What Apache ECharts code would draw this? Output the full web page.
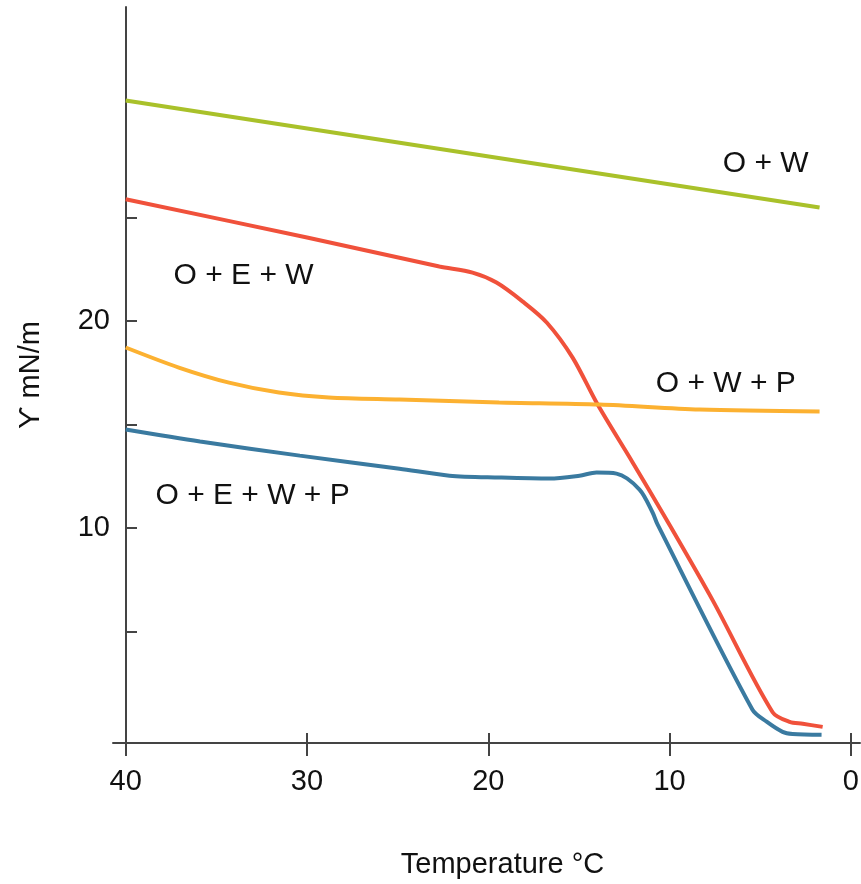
<!DOCTYPE html>
<html>
<head>
<meta charset="utf-8">
<script src="https://cdn.jsdelivr.net/npm/echarts@6/dist/echarts.min.js"></script>
<style>
  html, body { margin: 0; padding: 0; background: #fff; }
  #chart { width: 861px; height: 884px; }
</style>
</head>
<body>
<div id="chart"></div>
<script>
// 数据 [温度 °C, γ mN/m]
var owData = [[40, 30.68], [1.73, 25.5]]
var oewData = [[40, 25.9], [30, 24.05], [22.7, 22.65], [20.87, 22.35], [19.55, 21.87], [18.1, 20.95],
  [16.78, 19.94], [15.35, 18.24], [13.97, 15.97], [12.04, 13.17], [10.17, 10.4],
  [7.63, 6.51], [4.32, 1.09], [3.38, 0.62], [2.66, 0.53], [1.56, 0.38]]
var owpData = [[40, 18.73], [37.07, 17.76], [34.3, 17.03], [31.55, 16.55], [28.8, 16.31], [24.9, 16.21],
  [19.4, 16.07], [13.86, 15.97], [8.35, 15.73], [1.73, 15.63]]
var oewpData = [[40, 14.76], [35.9, 14.18], [30.4, 13.5], [24.9, 12.87], [22.14, 12.53], [19.38, 12.44],
  [16.62, 12.39], [14.97, 12.53], [14.03, 12.68], [12.93, 12.63], [11.66, 11.86], [10.94, 10.75],
  [10.66, 10.16], [5.43, 1.21], [4.65, 0.63], [3.77, 0.14], [3.22, 0.04], [1.62, 0.0]]

// 曲线标注
var labelNames = ['O + W', 'O + E + W', 'O + W + P', 'O + E + W + P']
var labelCoords = [[4.7, 27.6], [33.5, 22.2], [6.9, 17.0], [33.0, 11.55]]

var xTicks = [0, 10, 20, 30, 40]
var yTicks = [5, 10, 15, 20, 25]
var yLabels = [10, 20]

var colors = ['#a9c12a', '#f0513b', '#fcb131', '#3a7aa0']
var seriesData = [owData, oewData, owpData, oewpData]

var myChart = echarts.init(document.getElementById('chart'))
var font = 'Liberation Sans, Arial, sans-serif'
var axisColor = '#444'

var series = seriesData.map(function (d, i) {
  return {
    type: 'line',
    data: d,
    smooth: 0.3,
    showSymbol: false,
    lineStyle: { color: colors[i], width: 4 },
    markPoint: {
      symbol: 'circle',
      symbolSize: 0,
      label: {
        show: true,
        position: 'inside',
        color: '#111',
        fontSize: 30,
        fontFamily: font,
        formatter: function (p) { return p.name }
      },
      data: [{ name: labelNames[i], coord: labelCoords[i] }]
    }
  }
})

var option = {
  animation: false,
  grid: { left: 113, right: 1, top: 7, bottom: 141, outerBoundsMode: 'none' },
  xAxis: [{
    type: 'value',
    inverse: true,
    min: -0.5,
    max: 40.7,
    position: 'bottom',
    name: 'Temperature °C',
    nameLocation: 'middle',
    nameGap: 107,
    nameTextStyle: { color: '#111', fontSize: 29, fontFamily: font, padding: [0, 0, 0, 32] },
    axisLine: { onZero: false, lineStyle: { color: axisColor, width: 2 } },
    axisTick: { customValues: xTicks, length: 13, lineStyle: { color: axisColor, width: 2 } },
    axisLabel: { customValues: xTicks, margin: 24, color: '#111', fontSize: 29, fontFamily: font },
    splitLine: { show: false }
  }, {
    // 向上的刻度半段
    type: 'value',
    inverse: true,
    min: -0.5,
    max: 40.7,
    position: 'top',
    offset: -736,
    axisLine: { show: false, onZero: false },
    axisTick: { customValues: xTicks, length: 10, lineStyle: { color: axisColor, width: 2 } },
    axisLabel: { show: false },
    splitLine: { show: false }
  }],
  yAxis: {
    type: 'value',
    min: -0.4,
    max: 35.2,
    offset: -13,
    name: 'ϒ mN/m',
    nameLocation: 'middle',
    nameRotate: 90,
    nameGap: 81,
    nameTextStyle: { color: '#111', fontSize: 29, fontFamily: font },
    axisLine: { show: true, onZero: false, lineStyle: { color: axisColor, width: 2 } },
    axisTick: { show: true, inside: true, customValues: yTicks, length: 11, lineStyle: { color: axisColor, width: 2 } },
    axisLabel: { customValues: yLabels, margin: 16, color: '#111', fontSize: 29, fontFamily: font },
    splitLine: { show: false }
  },
  series: series
}

myChart.setOption(option)
window.addEventListener('resize', function () {
  myChart.resize()
})
</script>
</body>
</html>
